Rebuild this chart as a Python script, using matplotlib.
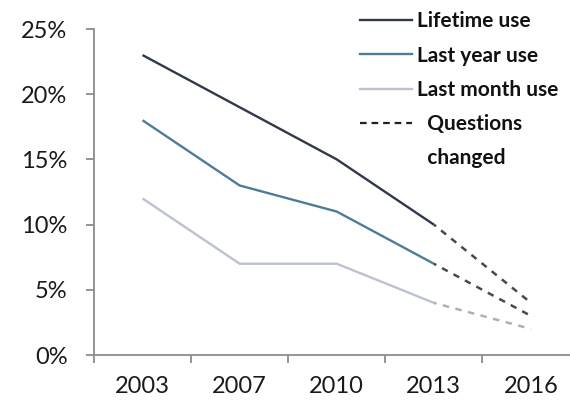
import matplotlib.pyplot as plt
from matplotlib.lines import Line2D
from matplotlib.ticker import FixedLocator, PercentFormatter

years = ["2003", "2007", "2010", "2013", "2016"]
# survey values, % of respondents (2003-2013 old questions)
lifetime = [23, 19, 15, 10]
last_year = [18, 13, 11, 7]
last_month = [12, 7, 7, 4]
# 2013 -> 2016 after the questions changed
lifetime_new = [10, 4]
last_year_new = [7, 3]
last_month_new = [4, 2]

c_life = "#2f3949"
c_year = "#4c7d98"
c_month = "#bcc2d3"
c_dash = "#4a4a4a"
c_dash_light = "#b0b0b0"

plt.rcParams['font.family'] = ['Lato', 'DejaVu Sans']

fig = plt.figure(figsize=(5.7, 4.04), dpi=100)
ax = fig.add_axes([94/570, 1-355/404, 1-94/570, (355-29)/404])

x_old = list(range(len(lifetime)))
x_new = [3, 4]
ax.plot(x_old, lifetime, color=c_life, lw=1.7, solid_capstyle='butt')
ax.plot(x_old, last_year, color=c_year, lw=1.7, solid_capstyle='butt')
ax.plot(x_old, last_month, color=c_month, lw=1.7, solid_capstyle='butt')
ax.plot(x_new, lifetime_new, color=c_dash, lw=1.8, ls=(1.5, (2.6, 2.6)))
ax.plot(x_new, last_year_new, color=c_dash, lw=1.8, ls=(1.5, (2.6, 2.6)))
ax.plot(x_new, last_month_new, color=c_dash_light, lw=1.8, ls=(1.5, (2.6, 2.6)))

ax.set_xlim(-0.5, (570-143)/97)
ax.set_ylim(0, 25)
ax.set_yticks([0, 5, 10, 15, 20, 25])
ax.yaxis.set_major_formatter(PercentFormatter(decimals=0))

ax.set_xticks(range(len(years)))
ax.set_xticklabels(years)
ax.xaxis.set_minor_locator(FixedLocator([-0.5, 0.5, 1.5, 2.5, 3.5]))
ax.tick_params(axis='x', which='major', length=0, pad=15, labelsize=17, colors='#1a1a1a')
ax.tick_params(axis='x', which='minor', length=6, width=1.3, color='#8c8c8c', direction='out')
ax.tick_params(axis='y', length=6, width=1.3, color='#8c8c8c', pad=13, labelsize=17, labelcolor='#1a1a1a')

for s in ['top', 'right']:
    ax.spines[s].set_visible(False)
for s in ['left', 'bottom']:
    ax.spines[s].set_color('#8c8c8c')
    ax.spines[s].set_linewidth(1.3)

handles = [
    Line2D([], [], color=c_life, lw=1.7),
    Line2D([], [], color=c_year, lw=1.7),
    Line2D([], [], color=c_month, lw=1.7),
    Line2D([], [], color='#222222', lw=1.6, ls=(0, (3, 2.2))),
    Line2D([], [], color='none'),
]
labels = ["Lifetime use", "Last year use", "Last month use", "  Questions", "  changed"]
leg = ax.legend(handles, labels, loc='upper left', bbox_to_anchor=(349/570, 1.0),
                bbox_transform=fig.transFigure, frameon=False,
                handlelength=2.45, handletextpad=0.25, labelspacing=0.68,
                borderaxespad=0.15, prop={'weight': 'bold', 'size': 15})
for t in leg.get_texts():
    t.set_color('#111111')

fig.savefig("out.png", dpi=100)
